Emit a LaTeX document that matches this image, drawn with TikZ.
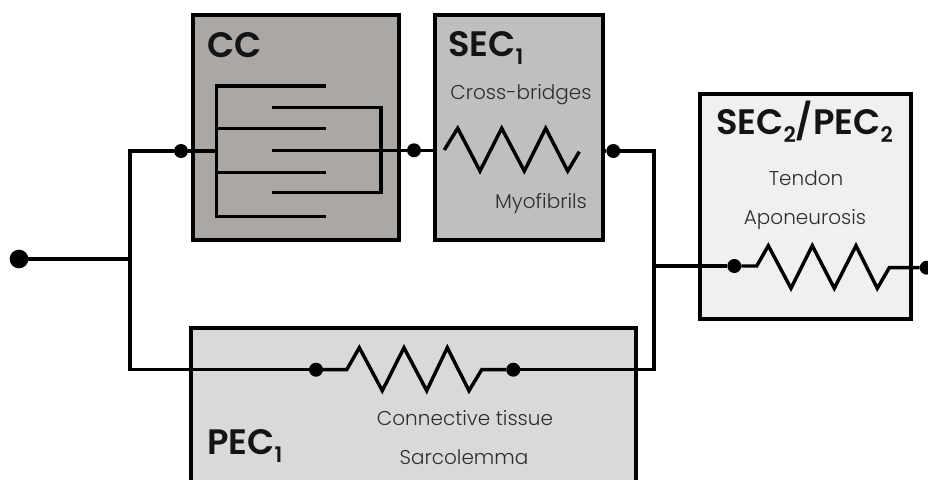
\documentclass[tikz,border=0pt]{standalone}
\usepackage{fontspec}
\setmainfont{Poppins}
\newfontfamily\titlefont{Poppins SemiBold}
\newfontfamily\lightfont{Poppins Light}
\definecolor{ccgray}{HTML}{ABA7A5}
\definecolor{secgray}{HTML}{BFBFBF}
\definecolor{pecgray}{HTML}{D9D9D9}
\definecolor{tengray}{HTML}{F0F0F0}
\newcommand{\subdig}[1]{\raisebox{-6pt}{\fontsize{16}{18}\selectfont #1}}
\tikzset{
  x=0.75pt,y=-0.75pt,
  box/.style={draw=black,line width=3pt,inner sep=0pt,outer sep=0pt,anchor=north west},
  wire/.style={draw=black,line width=2.6pt,line join=miter},
  spring/.style={draw=black,line width=2.6pt,line join=miter},
  dot/.style={circle,fill=black,draw=none,inner sep=0pt,outer sep=0pt,minimum size=10.5pt},
  bigdot/.style={circle,fill=black,draw=none,inner sep=0pt,outer sep=0pt,minimum size=14pt},
  title/.style={font=\titlefont\fontsize{26.5}{30}\selectfont,anchor=base west,inner sep=0pt,text=black!92},
  sub/.style={font=\lightfont\fontsize{15}{16}\selectfont,anchor=base,inner sep=0pt,text=black!82},
}
\begin{document}
\begin{tikzpicture}
\useasboundingbox (0,0) rectangle (928,479);
\clip (0,0) rectangle (928,479);
% boxes
\node[box,fill=ccgray,minimum width=154.4pt,minimum height=168.3pt] (cc) at (192.8,15.3) {};
\node[box,fill=secgray,minimum width=126pt,minimum height=168.3pt] (sec) at (434.7,15.3) {};
\node[box,fill=tengray,minimum width=158.9pt,minimum height=168.75pt] (ten) at (699.5,93.7) {};
\node[box,fill=pecgray,minimum width=334.1pt,minimum height=129pt] (pec) at (190.5,328) {};
% titles and labels
\node[title] (tcc) at (207,57) {CC};
\node[title] (tsec) at (448,56) {SEC\subdig{1}};
\node[title] (tten) at (716,134) {SEC\subdig{2}/PEC\subdig{2}};
\node[title] (tpec) at (207,454) {PEC\subdig{1}};
\node[sub] (l1) at (521,99) {Cross-bridges};
\node[sub] (l2) at (541,208) {Myofibrils};
\node[sub] (l3) at (806,185) {Tendon};
\node[sub] (l4) at (805,224) {Aponeurosis};
\node[sub] (l5) at (465,425) {Connective tissue};
\node[sub] (l6) at (464,464) {Sarcolemma};
% dots
\node[bigdot] (start) at (19,259) {};
\node[dot] (d1) at (181,151) {};
\node[dot] (d2) at (414,150.3) {};
\node[dot] (d3) at (613.3,151) {};
\node[dot] (d4) at (316,369.7) {};
\node[dot] (d5) at (513.3,369.7) {};
\node[dot] (d6) at (734.3,266) {};
\node[dot] (d7) at (926.7,267.7) {};
% junction points
\coordinate (j) at (130,259);
\coordinate (jt) at (130,151);
\coordinate (jb) at (130,369.7);
\coordinate (rt) at (654,151);
\coordinate (rb) at (654,369.7);
\coordinate (rm) at (654,266);
\coordinate (combL) at (216.7,151);
\coordinate (combR) at (271.7,150.3);
% wires
\draw[wire] (start) -- (j);
\draw[wire] (combL) -- (d1) -- (d1 -| jt) -- (jb) -- (d4);
\draw[wire] (combR) -- (d2) -- (sec.west |- d2);
\draw[wire] (sec.east |- d3) -- (d3) -- (rt) -- (rb) -- (d5);
\draw[wire] (rm) -- (d6);
% contractile comb
\draw[wire] (326,86) -- (216.7,86) -- (216.7,216.7) -- (326,216.7);
\draw[wire] (216.7,128.3) -- (326,128.3);
\draw[wire] (216.7,172.3) -- (326,172.3);
\draw[wire] (271.7,107.3) -- (381,107.3) -- (381,192.7) -- (271.7,192.7);
% springs
\draw[spring] (444.3,150) -- (457.7,128.3) -- (480,171) -- (501.7,128.3) -- (524.3,171) -- (545.7,128.3) -- (567.7,171) -- (579.3,151.7);
\draw[spring] (d4) -- (346.7,369.7) -- (359.3,347.7) -- (382.3,390.7) -- (404,347.7) -- (426.7,390.7) -- (447.3,347.7) -- (469,390.7) -- (481.7,369.7) -- (d5);
\draw[spring] (d6) -- (756.7,266) -- (768.3,245.7) -- (791,288.3) -- (812.3,245.7) -- (834.3,288.3) -- (856,245.7) -- (877.3,288.3) -- (889.3,267.7) -- (d7);
\end{tikzpicture}
\end{document}
